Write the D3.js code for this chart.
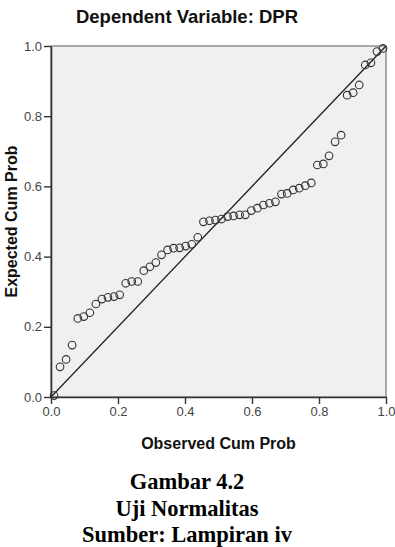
<!DOCTYPE html>
<html>
<head>
<meta charset="utf-8">
<script src="https://cdn.jsdelivr.net/npm/d3@7"></script>
<style>
  body { margin: 0; background: #fff; }
  svg { display: block; }
</style>
</head>
<body>
<script>
// Normal P-P plot of regression standardized residual
var title_text   = "Dependent Variable: DPR";
var x_title      = "Observed Cum Prob";
var y_title      = "Expected Cum Prob";
var tick_values  = [0, 0.2, 0.4, 0.6, 0.8, 1.0];
var caption      = ["Gambar 4.2", "Uji Normalitas", "Sumber: Lampiran iv"];

// observed cum prob (x) and expected cum prob (y)
var observed = [0.009, 0.027, 0.045, 0.063, 0.080, 0.098, 0.116, 0.134, 0.152, 0.170,
                0.188, 0.205, 0.223, 0.241, 0.259, 0.277, 0.295, 0.313, 0.330, 0.348,
                0.366, 0.384, 0.402, 0.420, 0.438, 0.455, 0.473, 0.491, 0.509, 0.527,
                0.545, 0.563, 0.580, 0.598, 0.616, 0.634, 0.652, 0.670, 0.688, 0.705,
                0.723, 0.741, 0.759, 0.777, 0.795, 0.813, 0.830, 0.848, 0.866, 0.884,
                0.902, 0.920, 0.938, 0.955, 0.973, 0.991];
var expected = [0.004, 0.086, 0.107, 0.148, 0.224, 0.229, 0.240, 0.265, 0.279, 0.284,
                0.286, 0.291, 0.324, 0.329, 0.329, 0.360, 0.371, 0.383, 0.405, 0.419,
                0.424, 0.425, 0.430, 0.435, 0.455, 0.499, 0.502, 0.504, 0.507, 0.514,
                0.516, 0.519, 0.519, 0.531, 0.538, 0.547, 0.552, 0.556, 0.578, 0.580,
                0.590, 0.595, 0.602, 0.610, 0.661, 0.664, 0.687, 0.727, 0.746, 0.860,
                0.867, 0.889, 0.946, 0.952, 0.984, 0.993];

var width  = 395;
var height = 547;
var plot_left = 51, plot_right = 386, plot_top = 46, plot_bottom = 397;

var svg = d3.select("body").append("svg")
    .attr("width", width)
    .attr("height", height);

var x = d3.scaleLinear().domain([0, 1]).range([plot_left, plot_right]);
var y = d3.scaleLinear().domain([0, 1]).range([plot_bottom, plot_top]);

// title
svg.append("text")
    .attr("x", 187).attr("y", 23)
    .attr("text-anchor", "middle")
    .style("font-family", "Arial, 'Liberation Sans', sans-serif")
    .style("font-size", "18.5px")
    .style("font-weight", "bold")
    .style("fill", "#111")
    .text(title_text);

// plot background with frame
svg.append("rect")
    .attr("x", plot_left).attr("y", plot_top)
    .attr("width", plot_right - plot_left).attr("height", plot_bottom - plot_top)
    .style("fill", "#f0f0f0")
    .style("stroke", "#777")
    .style("stroke-width", 1.2);

// diagonal reference line
svg.append("line")
    .attr("x1", x(0)).attr("y1", y(0))
    .attr("x2", x(1)).attr("y2", y(1))
    .style("stroke", "#222")
    .style("stroke-width", 1.3);

// points
var points = observed.map(function (d, i) { return [d, expected[i]]; });
svg.append("g").selectAll("circle")
    .data(points)
    .enter()
    .append("circle")
    .attr("cx", function (d) { return x(d[0]); })
    .attr("cy", function (d) { return y(d[1]); })
    .attr("r", 3.8)
    .style("fill", "none")
    .style("stroke", "#333")
    .style("stroke-width", 1.1);

// axes
var x_axis = d3.axisBottom(x).tickValues(tick_values).tickFormat(d3.format(".1f"))
    .tickSize(7).tickSizeOuter(0);
var y_axis = d3.axisLeft(y).tickValues(tick_values).tickFormat(d3.format(".1f"))
    .tickSize(7).tickSizeOuter(0);

var gx = svg.append("g").attr("transform", "translate(0," + plot_bottom + ")").call(x_axis);
var gy = svg.append("g").attr("transform", "translate(" + plot_left + ",0)").call(y_axis);

[gx, gy].forEach(function (g) {
    g.select(".domain").style("stroke", "#333").style("stroke-width", 1.6);
    g.selectAll(".tick line").style("stroke", "#333").style("stroke-width", 1.4);
    g.selectAll(".tick text")
        .style("font-family", "Arial, 'Liberation Sans', sans-serif")
        .style("font-size", "13px")
        .style("fill", "#444");
});
gx.selectAll(".tick text").attr("y", 10);
gy.selectAll(".tick text").attr("x", -9);

// axis titles
svg.append("text")
    .attr("x", (plot_left + plot_right) / 2).attr("y", 449)
    .attr("text-anchor", "middle")
    .style("font-family", "Arial, 'Liberation Sans', sans-serif")
    .style("font-size", "16px")
    .style("font-weight", "bold")
    .style("fill", "#111")
    .text(x_title);

svg.append("text")
    .attr("transform", "translate(17," + (plot_top + plot_bottom) / 2 + ") rotate(-90)")
    .attr("text-anchor", "middle")
    .style("font-family", "Arial, 'Liberation Sans', sans-serif")
    .style("font-size", "16px")
    .style("font-weight", "bold")
    .style("fill", "#111")
    .text(y_title);

// caption below the chart
svg.selectAll(".caption")
    .data(caption)
    .enter()
    .append("text")
    .attr("class", "caption")
    .attr("x", 187)
    .attr("y", function (d, i) { return 489 + i * 26.5; })
    .attr("text-anchor", "middle")
    .style("font-family", "'Times New Roman', 'Liberation Serif', serif")
    .style("font-size", "22.5px")
    .style("font-weight", "bold")
    .style("fill", "#000")
    .text(function (d) { return d; });
</script>
</body>
</html>
